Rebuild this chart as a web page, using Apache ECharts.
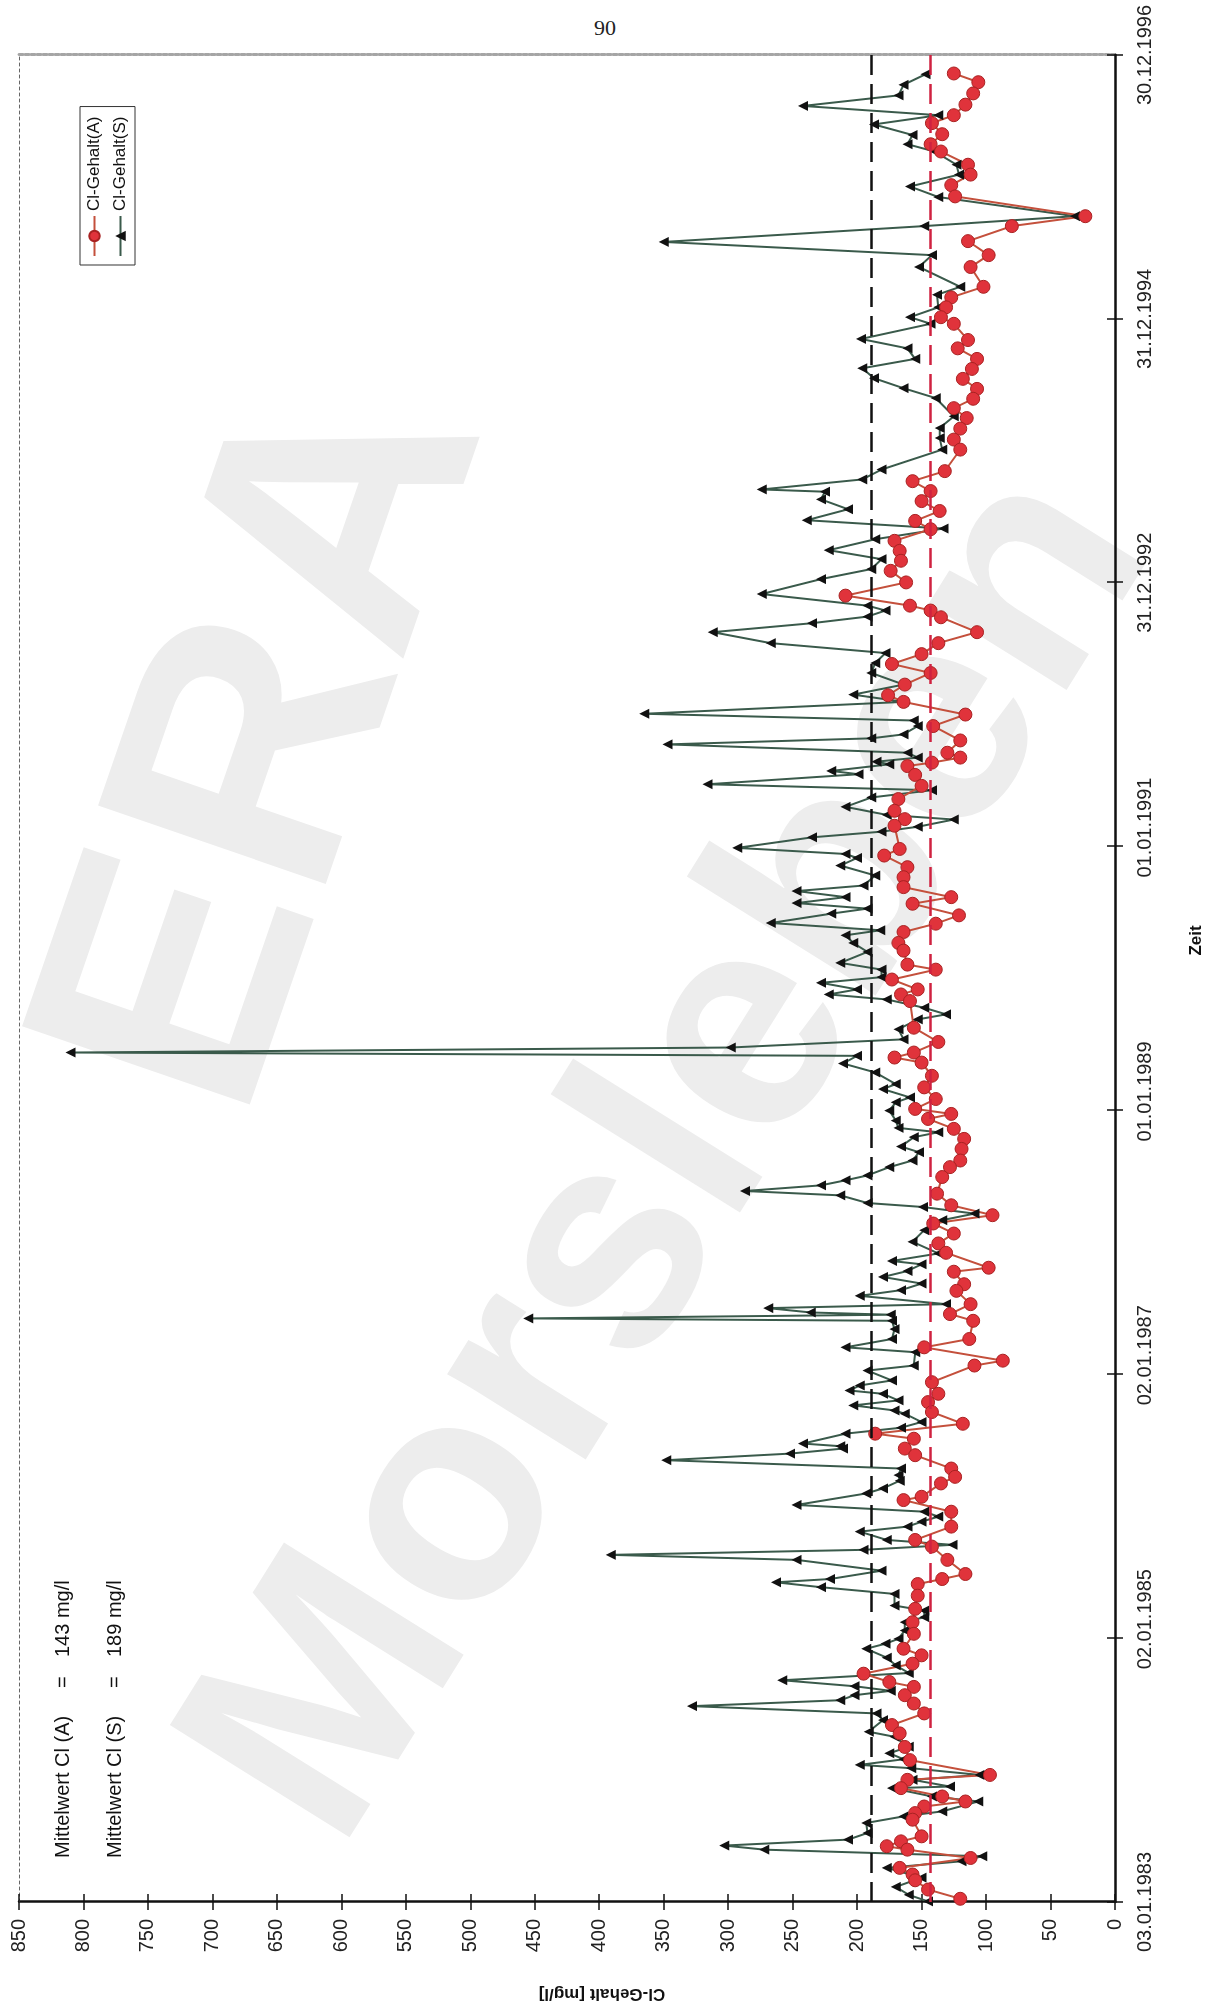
<!DOCTYPE html>
<html>
<head>
<meta charset="utf-8">
<title>Cl-Gehalt</title>
<script src="https://cdn.jsdelivr.net/npm/echarts@6/dist/echarts.min.js"></script>
<style>
html, body { margin: 0; padding: 0; background: #fff; }
body { width: 1210px; height: 2010px; position: relative; overflow: hidden; }
.wm {
  position: absolute;
  color: #ededed;
  font-family: 'Liberation Sans', Arial, sans-serif;
  font-weight: bold;
  white-space: nowrap;
  line-height: 1;
}
#page-no {
  position: absolute; left: 605px; top: 28px;
  transform: translate(-50%, -50%);
  font-family: 'Liberation Serif', 'DejaVu Serif', serif;
  font-size: 22px; color: #222;
}
/* chart is drawn landscape and turned a quarter to the left, like the scanned page */
#chart {
  position: absolute; left: 0; top: 0;
  width: 2010px; height: 1210px;
  transform-origin: 0 0;
  transform: translateY(2010px) rotate(-90deg);
}
</style>
</head>
<body>
<div class="wm" style="left:248px;top:738px;font-size:350px;transform:translate(-50%,-50%) rotate(-71deg);">ERA</div>
<div class="wm" style="left:656px;top:1145px;font-size:308px;transform:translate(-50%,-50%) rotate(-58deg);">Morsleben</div>
<div id="page-no">90</div>
<div id="chart"></div>

<script>
// Cl-Gehalt (S), time as decimal year, value in mg/l
const S_YEAR = [
  1996.85, 1996.77, 1996.69, 1996.61, 1996.54, 1996.47, 1996.39, 1996.32, 1996.265, 1996.165,
  1996.09, 1996.00, 1995.92, 1995.775, 1995.70, 1995.58, 1995.48, 1995.39, 1995.24, 1995.18,
  1995.085, 1995.01, 1994.96,
  1994.845, 1994.774, 1994.694, 1994.623, 1994.548, 1994.472, 1994.397, 1994.259, 1994.17, 1994.095,
  1994.007, 1993.856, 1993.781, 1993.705, 1993.688, 1993.63, 1993.555, 1993.472, 1993.409, 1993.328,
  1993.245, 1993.177, 1993.102, 1993.026, 1992.913, 1992.825, 1992.788, 1992.742, 1992.692, 1992.624,
  1992.541, 1992.466, 1992.39, 1992.315, 1992.227, 1992.151, 1992.096, 1992.006, 1991.955, 1991.913,
  1991.85, 1991.82, 1991.774, 1991.711, 1991.674, 1991.643, 1991.623, 1991.573, 1991.548, 1991.472,
  1991.427, 1991.372, 1991.301, 1991.24, 1991.205, 1991.15, 1991.113, 1991.07, 1990.99, 1990.944,
  1990.914, 1990.856, 1990.781, 1990.705, 1990.663, 1990.617, 1990.572, 1990.53, 1990.492, 1990.421,
  1990.366, 1990.328, 1990.27,
  1990.202, 1990.119, 1990.068, 1990.011, 1989.968, 1989.918, 1989.88, 1989.842, 1989.779, 1989.729,
  1989.691, 1989.616, 1989.54, 1989.478, 1989.44, 1989.415, 1989.357, 1989.289, 1989.201, 1989.163,
  1989.10, 1989.063, 1989.00, 1988.924, 1988.869, 1988.836, 1988.799, 1988.728, 1988.685, 1988.622,
  1988.572, 1988.509, 1988.472, 1988.434, 1988.391, 1988.358, 1988.30, 1988.27, 1988.22, 1988.17,
  1988.094, 1988.006, 1987.918,
  1987.861, 1987.836, 1987.785, 1987.74, 1987.69, 1987.64, 1987.597, 1987.534, 1987.504, 1987.471,
  1987.454, 1987.426, 1987.408, 1987.345, 1987.27, 1987.207, 1987.17, 1987.069, 1987.031, 1986.956,
  1986.918, 1986.88, 1986.855, 1986.805, 1986.767, 1986.729, 1986.704, 1986.641, 1986.598, 1986.553,
  1986.478, 1986.458, 1986.44, 1986.402, 1986.352, 1986.289, 1986.239, 1986.196, 1986.138, 1986.10,
  1986.013, 1985.962, 1985.925, 1985.886, 1985.849, 1985.811, 1985.748, 1985.711, 1985.673, 1985.635,
  1985.597,
  1985.515, 1985.452, 1985.427, 1985.39, 1985.339, 1985.251, 1985.213, 1985.163, 1985.125, 1985.062,
  1984.999, 1984.962, 1984.924, 1984.856, 1984.798, 1984.74, 1984.685, 1984.64, 1984.605, 1984.572,
  1984.534, 1984.489, 1984.434, 1984.383, 1984.295, 1984.257, 1984.182, 1984.132, 1984.087, 1984.044,
  1984.019, 1983.968, 1983.931, 1983.88, 1983.868, 1983.805, 1983.767, 1983.692, 1983.654, 1983.604,
  1983.528, 1983.478, 1983.433, 1983.402, 1983.352, 1983.314, 1983.264, 1983.19, 1983.12, 1983.06,
  1983.01
]
const S_CL = [
  147, 164, 168, 242, 137, 187, 157, 161, 140, 123,
  121, 159, 137, 31, 148, 350, 142, 152, 120, 138,
  137, 159, 143,
  197, 161, 155, 196, 187, 164, 139, 125, 136, 136,
  134, 181, 196, 274, 225, 228, 207, 239, 133, 186,
  222, 181, 189, 228, 274, 192, 178, 192, 235, 312,
  267, 178, 186, 189, 164, 203, 164, 365, 156, 153,
  164, 189, 347, 161, 153, 185, 175, 220, 199, 316,
  142, 189, 209, 177, 125, 153, 181, 235, 293, 209,
  200, 213, 186, 195, 247, 209, 247, 192, 220, 267,
  182, 209, 203,
  192, 213, 181, 181, 228, 200, 222, 177, 148, 131,
  153, 168, 164, 298, 810, 200, 211, 186, 170, 180,
  159, 170, 175, 170, 168, 137, 156, 166, 152, 157,
  175, 192, 209, 228, 287, 213, 192, 149, 109, 134,
  148, 157, 137,
  173, 150, 161, 180, 150, 166, 198, 131, 269, 236,
  174, 455, 173, 171, 173, 209, 155, 156, 192, 173,
  198, 206, 180, 168, 203, 171, 163, 150, 166, 209,
  242, 213, 211, 252, 348, 166, 168, 167, 180, 193,
  247, 148, 137, 150, 161, 198, 177, 126, 195, 391,
  247,
  181, 221, 263, 228, 171, 171, 148, 148, 163, 163,
  168, 178, 193, 177, 170, 160, 258, 202, 174, 202,
  213, 328, 185, 180, 191, 171, 160, 175, 164, 198,
  158, 105, 157, 128, 173, 142, 106, 134, 164, 193,
  192, 207, 303, 272, 103, 119, 177, 150, 170, 160,
  145
]

// Cl-Gehalt (A)
const A_YEAR = [
  1996.856, 1996.79, 1996.705, 1996.62, 1996.54, 1996.48, 1996.396, 1996.32, 1996.265, 1996.165,
  1996.09, 1996.01, 1995.925, 1995.775, 1995.70, 1995.586, 1995.48, 1995.39, 1995.24, 1995.16,
  1995.085, 1995.01, 1994.96,
  1994.837, 1994.774, 1994.694, 1994.618, 1994.543, 1994.467, 1994.392, 1994.321, 1994.246, 1994.166,
  1994.083, 1994.007, 1993.844, 1993.768, 1993.693, 1993.617, 1993.542, 1993.467, 1993.404, 1993.316,
  1993.24, 1993.165, 1993.089, 1993.001, 1992.901, 1992.825, 1992.788, 1992.737, 1992.624,
  1992.541, 1992.458, 1992.383, 1992.315, 1992.227, 1992.146, 1992.096, 1992.00, 1991.913, 1991.804,
  1991.711, 1991.674, 1991.636, 1991.61, 1991.543, 1991.46, 1991.36, 1991.271, 1991.208, 1991.158,
  1990.982, 1990.932, 1990.844, 1990.768, 1990.693, 1990.617, 1990.567, 1990.479, 1990.416, 1990.353,
  1990.27,
  1990.212, 1990.106, 1990.068, 1989.993, 1989.918, 1989.88, 1989.83, 1989.628, 1989.52, 1989.44,
  1989.402, 1989.364, 1989.264, 1989.176, 1989.088, 1989.013, 1988.975, 1988.937, 1988.862, 1988.786,
  1988.71, 1988.622, 1988.572, 1988.497, 1988.371, 1988.283, 1988.208, 1988.145, 1988.069, 1987.994,
  1987.923,
  1987.81, 1987.78, 1987.685, 1987.635, 1987.534, 1987.459, 1987.408, 1987.27, 1987.207, 1987.106,
  1987.069, 1986.943, 1986.855, 1986.792, 1986.717, 1986.628, 1986.553, 1986.515, 1986.44, 1986.39,
  1986.289, 1986.226, 1986.176, 1986.075, 1986.05, 1985.962, 1985.849, 1985.748, 1985.698, 1985.597,
  1985.49, 1985.452, 1985.414, 1985.326, 1985.226, 1985.125, 1985.037, 1984.924, 1984.874, 1984.811,
  1984.735, 1984.672, 1984.635, 1984.572, 1984.509, 1984.434, 1984.346, 1984.283, 1984.18, 1984.08,
  1983.968, 1983.931, 1983.868, 1983.805, 1983.767, 1983.729, 1983.679, 1983.629, 1983.503, 1983.465,
  1983.428, 1983.402, 1983.339, 1983.264, 1983.214, 1983.17, 1983.10, 1983.03
]
const A_CL = [
  125, 106, 110, 116, 125, 142, 134, 143, 135, 114,
  112, 127, 124, 23, 80, 114, 98, 112, 102, 127,
  131, 135, 125,
  114, 122, 107, 111, 118, 107, 110, 125, 115, 120,
  125, 120, 132, 157, 143, 150, 136, 155, 143, 171,
  167, 166, 174, 162, 209, 159, 143, 135, 107,
  137, 150, 173, 143, 163, 176, 164, 116, 141, 120,
  130, 120, 142, 161, 155, 150, 168, 171, 163, 171,
  167, 179, 161, 164, 164, 127, 157, 121, 139, 164,
  168,
  164, 161, 139, 173, 153, 166, 159, 156, 137, 156,
  171, 150, 142, 148, 139, 155, 127, 145, 125, 117,
  119, 120, 128, 134, 138, 127, 95, 141, 125, 137,
  131,
  98, 125, 117, 123, 112, 128, 110, 113, 148, 87,
  109, 142, 137, 145, 142, 118, 186, 156, 163, 155,
  127, 124, 135, 150, 164, 127, 127, 155, 142, 130,
  116, 134, 153, 153, 155, 157, 156, 164, 150, 157,
  195, 175, 156, 163, 156, 148, 173, 167, 163, 159,
  97, 161, 166, 134, 116, 148, 155, 157, 150, 166,
  177, 161, 112, 167, 157, 155, 145, 120
]

const MEAN_A = 143
const MEAN_S = 189

// Zeit axis: ticks every 730 days from 03.01.1983
const TIME_LABELS = ['03.01.1983', '02.01.1985', '02.01.1987', '01.01.1989', '01.01.1991', '31.12.1992', '31.12.1994', '30.12.1996']
// in the print these four labels sit a little after their tick
const SHIFTED_LABELS = ['02.01.1985', '02.01.1987', '01.01.1989', '01.01.1991']
const TIME_STEP = 730

const YEAR0 = 1983 + 2 / 365
const toDay = (y) => (y - YEAR0) * 365.25

const FONT = "'Liberation Sans', Arial, sans-serif"
const dayMax = TIME_STEP * (TIME_LABELS.length - 1)

const chart = echarts.init(document.getElementById('chart'))

const timeAxisBase = { type: 'value', min: 0, max: dayMax, interval: TIME_STEP, splitLine: { show: false } }
const clAxisBase = { type: 'value', min: 0, max: 850, interval: 50, splitLine: { show: false } }
const tickStyle = { color: '#111', width: 1.5 }

chart.setOption({
  animation: false,
  backgroundColor: 'transparent',
  grid: { left: 100, right: 55, top: 19, bottom: 95 },
  legend: {
    data: ['Cl-Gehalt(A)', 'Cl-Gehalt(S)'],
    orient: 'vertical',
    left: 1745,
    top: 80,
    padding: [6, 10, 6, 8],
    itemGap: 9,
    itemWidth: 40,
    itemHeight: 13,
    borderColor: '#333',
    borderWidth: 1,
    backgroundColor: '#fff',
    textStyle: { fontFamily: FONT, fontSize: 17, color: '#111' }
  },
  xAxis: [
    {
      ...timeAxisBase,
      position: 'bottom',
      name: 'Zeit',
      nameLocation: 'middle',
      nameGap: 73,
      nameTextStyle: { fontFamily: FONT, fontSize: 17, fontWeight: 'bold', color: '#111', padding: [0, 0, 0, 76] },
      axisLine: { onZero: false, lineStyle: { color: '#111', width: 2.5 } },
      axisTick: { length: 8, lineStyle: tickStyle },
      axisLabel: {
        margin: 20,
        fontFamily: FONT,
        fontSize: 20,
        color: '#222',
        formatter: (v) => {
          const t = TIME_LABELS[Math.round(v / TIME_STEP)] || ''
          return SHIFTED_LABELS.includes(t) ? '{s|' + t + '}' : t
        },
        rich: {
          s: { fontFamily: FONT, fontSize: 20, color: '#222', padding: [0, 0, 0, 38] }
        }
      }
    },
    {
      ...timeAxisBase,
      position: 'bottom',
      axisLine: { show: false, onZero: false },
      axisTick: { inside: true, length: 8, lineStyle: tickStyle },
      axisLabel: { show: false }
    },
    {
      ...timeAxisBase,
      position: 'top',
      axisLine: { onZero: false, lineStyle: { color: '#666', width: 1, type: [3, 3] } },
      axisTick: { show: false },
      axisLabel: { show: false }
    }
  ],
  yAxis: [
    {
      ...clAxisBase,
      position: 'left',
      name: 'Cl-Gehalt [mg/l]',
      nameLocation: 'middle',
      nameGap: 83,
      nameTextStyle: { fontFamily: FONT, fontSize: 17, fontWeight: 'bold', color: '#111', padding: [0, 70, 0, 0] },
      axisLine: { onZero: false, lineStyle: { color: '#111', width: 2.5 } },
      axisTick: { length: 8, lineStyle: tickStyle },
      axisLabel: { margin: 17, fontFamily: FONT, fontSize: 20, color: '#222' }
    },
    {
      ...clAxisBase,
      position: 'left',
      axisLine: { show: false, onZero: false },
      axisTick: { inside: true, length: 8, lineStyle: tickStyle },
      axisLabel: { show: false }
    },
    {
      ...clAxisBase,
      position: 'right',
      axisLine: { onZero: false, lineStyle: { color: '#a5a5a5', width: 3, type: [4, 2] } },
      axisTick: { show: false },
      axisLabel: { show: false }
    }
  ],
  graphic: [
    { type: 'text', x: 152, y: 63, style: { text: 'Mittelwert Cl (A)', font: '20px ' + FONT, fill: '#111', verticalAlign: 'middle' } },
    { type: 'text', x: 322, y: 63, style: { text: '=', font: '20px ' + FONT, fill: '#111', verticalAlign: 'middle' } },
    { type: 'text', x: 353, y: 63, style: { text: MEAN_A + ' mg/l', font: '20px ' + FONT, fill: '#111', verticalAlign: 'middle' } },
    { type: 'text', x: 152, y: 115, style: { text: 'Mittelwert Cl (S)', font: '20px ' + FONT, fill: '#111', verticalAlign: 'middle' } },
    { type: 'text', x: 322, y: 115, style: { text: '=', font: '20px ' + FONT, fill: '#111', verticalAlign: 'middle' } },
    { type: 'text', x: 353, y: 115, style: { text: MEAN_S + ' mg/l', font: '20px ' + FONT, fill: '#111', verticalAlign: 'middle' } }
  ],
  series: [
    {
      name: 'Cl-Gehalt(S)',
      type: 'line',
      data: S_YEAR.map((y, i) => [toDay(y), S_CL[i]]),
      symbol: 'triangle',
      symbolSize: 10,
      showAllSymbol: true,
      itemStyle: { color: '#111' },
      lineStyle: { color: '#3a5a4b', width: 2 },
      markLine: {
        silent: true,
        symbol: 'none',
        label: { show: false },
        lineStyle: { color: '#111', width: 2.5, type: [20, 9] },
        data: [{ yAxis: MEAN_S }]
      }
    },
    {
      name: 'Cl-Gehalt(A)',
      type: 'line',
      data: A_YEAR.map((y, i) => [toDay(y), A_CL[i]]),
      symbol: 'circle',
      symbolSize: 13,
      showAllSymbol: true,
      itemStyle: { color: '#e0333b', borderColor: '#a82222', borderWidth: 1 },
      lineStyle: { color: '#c4503c', width: 2 },
      markLine: {
        silent: true,
        symbol: 'none',
        label: { show: false },
        lineStyle: { color: '#cf2240', width: 2.5, type: [20, 9] },
        data: [{ yAxis: MEAN_A }]
      }
    }
  ]
})
</script>
</body>
</html>
